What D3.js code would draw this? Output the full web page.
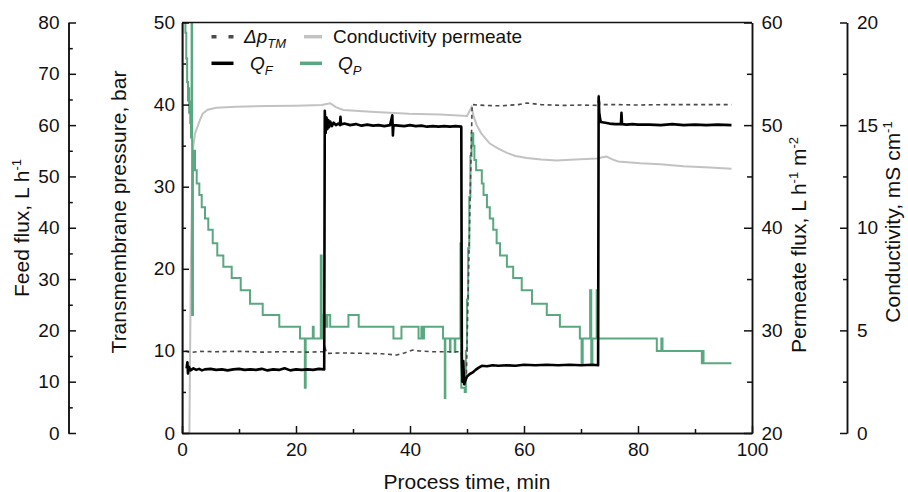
<!DOCTYPE html>
<html>
<head>
<meta charset="utf-8">
<script src="https://cdn.jsdelivr.net/npm/d3@7"></script>
<style>
  body { margin: 0; background: #fff; }
  text { font-family: "Liberation Sans", Arial, sans-serif; fill: #111; }
</style>
</head>
<body>
<script>
// Feed flux Q_F, L/h  [time min, value]
const feedFlux = [
  [0.8, 12.6], [0.95, 13.8], [1.05, 11.6], [1.2, 12.9], [1.5, 12.2], [2, 12.6], [2.5, 12.3], [3, 12.5],
  [3.5, 12.2], [4, 12.4], [5, 12.5], [6, 12.3], [7, 12.4], [8, 12.2], [9, 12.4], [10, 12.5], [11, 12.3],
  [12, 12.4], [13, 12.3], [14, 12.5], [15, 12.2], [16, 12.4], [17, 12.3], [18, 12.6], [19, 12.2],
  [20, 12.4], [21, 12.3], [22, 12.4], [23, 12.3], [24, 12.5], [24.95, 12.4],
  [25.05, 62.8], [25.2, 58.5], [25.35, 61.5], [25.5, 59.2], [25.65, 61.0], [25.8, 59.6], [26.0, 60.7],
  [26.3, 59.8], [26.6, 60.5], [27.0, 60.0], [27.4, 60.3], [27.7, 60.0], [27.8, 61.6], [27.9, 60.1],
  [28.5, 60.3], [29.5, 60.0], [30.5, 60.2], [31.5, 59.9], [32.5, 60.1], [33.5, 59.9], [34.5, 60.0],
  [35.5, 59.8], [36.5, 60.0], [36.9, 61.9], [37.0, 58.0], [37.1, 60.0], [38, 59.9], [39, 59.8],
  [40, 60.0], [41, 59.8], [42, 59.9], [43, 59.7], [44, 59.8], [45, 59.7], [46, 59.8], [47, 59.7],
  [48, 59.8], [49.0, 59.7], [49.1, 13.5], [49.2, 10.0], [49.35, 14.0], [49.5, 9.5], [49.7, 10.2],
  [50.0, 11.0], [50.5, 11.5], [51.0, 11.8], [51.5, 12.3], [52.0, 12.7], [52.6, 13.1], [53.5, 13.0],
  [54.5, 13.2], [55.5, 13.1], [57, 13.2], [58.5, 13.1], [60, 13.3], [62, 13.2], [64, 13.3], [66, 13.2],
  [68, 13.3], [70, 13.2], [72, 13.3], [73.0, 13.2], [73.1, 65.5], [73.2, 62.5], [73.35, 61.2],
  [73.5, 60.6], [74, 60.5], [75, 60.3], [76, 60.2], [77.0, 60.2], [77.1, 62.4], [77.2, 60.2], [78, 60.1],
  [79, 60.2], [80, 60.1], [82, 60.1], [84, 60.0], [86, 60.2], [88, 60.0], [90, 60.1], [92, 60.0],
  [94, 60.1], [96.4, 60.0]
];

// Permeate flux Q_P, L h-1 m-2 (stepped readings)
const permeateFlux = [
  [0, 20], [0.12, 65], [0.45, 62], [0.6, 59], [0.75, 56.5], [0.9, 54.2], [1.05, 52.4], [1.15, 53.6],
  [1.25, 51.2], [1.35, 52.3], [1.45, 50.2], [1.58, 48.8], [1.68, 65], [1.78, 31.5], [1.92, 47.5],
  [2.28, 45.6], [2.58, 44.3], [3.04, 43.2], [3.46, 42.0], [4.04, 40.9], [4.61, 39.8], [5.39, 38.5],
  [6.19, 37.3], [7.25, 36.2], [8.72, 35.1], [10.3, 33.9], [11.93, 32.6], [14.16, 31.5], [17.07, 30.35],
  [20.7, 29.2], [21.55, 24.4], [21.7, 29.2], [22.95, 30.35], [23.1, 29.2], [24.35, 37.3], [24.5, 29.2],
  [24.8, 31.5], [25.2, 30.35], [25.5, 31.5], [26.0, 30.35], [29.2, 31.5], [31.0, 30.35], [37.1, 29.2],
  [38.5, 30.35], [41.5, 29.2], [42.0, 30.35], [42.25, 29.2], [42.45, 30.35], [45.8, 29.2], [46.1, 23.4],
  [46.2, 29.2], [47.0, 27.9], [47.1, 29.2], [47.85, 27.9], [47.95, 29.2], [48.85, 38.5], [49.0, 24.4],
  [49.6, 24.0], [49.8, 28.0], [50.0, 33.0], [50.2, 38.0], [50.4, 43.0], [50.6, 47.0], [50.8, 49.2],
  [51.1, 48.0], [51.3, 46.6], [51.6, 45.6], [52.6, 44.3], [52.9, 43.2], [53.5, 42.0], [54.0, 40.9],
  [54.6, 39.8], [55.2, 38.5], [55.8, 37.3], [57.0, 36.2], [58.1, 35.1], [59.6, 33.9], [61.4, 32.6],
  [64.0, 31.5], [66.3, 30.35], [69.8, 29.2], [70.1, 26.8], [70.3, 29.2], [71.6, 33.9], [71.8, 26.8],
  [72.0, 29.2], [72.75, 33.9], [73.0, 29.2], [83.3, 28.0], [84.1, 29.2], [84.3, 28.0], [91.2, 26.8],
  [91.35, 28.0], [91.5, 26.8], [96.4, 26.8]
];

// Transmembrane pressure, bar
const tmpData = [
  [0.6, 10.0], [1.5, 9.8], [3, 9.95], [6, 9.9], [10, 9.95], [14, 9.85], [18, 9.9], [22, 9.85],
  [24.8, 9.9], [25.1, 10.4], [25.4, 9.7], [28, 9.75], [32, 9.7], [35, 9.65], [37.7, 9.5], [39, 9.75],
  [40.5, 10.1], [41.5, 10.0], [44, 9.9], [47, 9.9], [49.0, 9.9], [49.2, 6.8], [49.9, 7.2], [50.9, 40.0],
  [53, 39.9], [56, 39.85], [59, 40.0], [60.5, 40.2], [63, 40.0], [67, 39.9], [70, 39.95], [73.0, 39.9],
  [73.1, 41.2], [73.3, 40.0], [76, 40.0], [80, 39.95], [85, 40.0], [90, 40.0], [96.4, 40.0]
];

// Conductivity permeate, mS/cm
const condData = [
  [1.3, 0], [1.55, 8.0], [1.75, 11.5], [1.95, 13.9], [2.3, 14.6], [3.0, 15.15], [3.6, 15.55], [4.5, 15.75],
  [6.0, 15.85], [9.5, 15.9], [15, 15.93], [20, 15.95], [24.5, 15.98], [26.0, 16.06], [27.0, 15.88],
  [28.3, 15.74], [33.9, 15.64], [39.8, 15.56], [45.3, 15.52], [50.0, 15.45], [50.8, 15.88], [51.2, 15.4],
  [51.7, 15.0], [52.5, 14.6], [54.0, 14.1], [55.5, 13.85], [57, 13.65], [58.5, 13.5], [60.5, 13.4],
  [63, 13.33], [65.7, 13.28], [69, 13.32], [72.8, 13.37], [74.0, 13.45], [74.5, 13.47], [75.5, 13.33],
  [76.5, 13.23], [80.4, 13.14], [83.9, 13.09], [88, 13.0], [92.6, 12.93], [96.4, 12.88]
];

// tick values
const timeTicks = [0, 20, 40, 60, 80, 100], timeMinor = [10, 30, 50, 70, 90];
const tmpTicks = [0, 10, 20, 30, 40, 50], tmpMinor = [5, 15, 25, 35, 45];
const feedTicks = [0, 10, 20, 30, 40, 50, 60, 70, 80], feedMinor = [5, 15, 25, 35, 45, 55, 65, 75];
const permTicks = [20, 30, 40, 50, 60], permMinor = [25, 35, 45, 55];
const condTicks = [0, 5, 10, 15, 20], condMinor = [2.5, 7.5, 12.5, 17.5];

const width = 908, height = 492;
const plotLeft = 182, plotRight = 752, plotTop = 22.5, plotBottom = 433;
const font = '"Liberation Sans", Arial, sans-serif';
const green = "#5aa880";

const x = d3.scaleLinear().domain([0, 100]).range([plotLeft, plotRight]);
const yTmp = d3.scaleLinear().domain([0, 50]).range([plotBottom, plotTop]);
const yFeed = d3.scaleLinear().domain([0, 80]).range([plotBottom, plotTop]);
const yPerm = d3.scaleLinear().domain([20, 60]).range([plotBottom, plotTop]);
const yCond = d3.scaleLinear().domain([0, 20]).range([plotBottom, plotTop]);

const svg = d3.select("body").append("svg")
    .attr("width", width)
    .attr("height", height);

svg.append("clipPath").attr("id", "plot")
  .append("rect").attr("x", plotLeft).attr("y", plotTop)
  .attr("width", plotRight - plotLeft).attr("height", plotBottom - plotTop);

// Data lines
const plot = svg.append("g").attr("clip-path", "url(#plot)");

plot.append("path")
    .datum(condData)
    .attr("fill", "none").attr("stroke", "#c2c2c2").attr("stroke-width", 2)
    .attr("d", d3.line().x(d => x(d[0])).y(d => yCond(d[1])));

plot.append("path")
    .datum(permeateFlux)
    .attr("fill", "none").attr("stroke", green).attr("stroke-width", 2)
    .attr("d", d3.line().curve(d3.curveStepAfter).x(d => x(d[0])).y(d => yPerm(d[1])));

plot.append("path")
    .datum(tmpData)
    .attr("fill", "none").attr("stroke", "#4a4a4a").attr("stroke-width", 1.6)
    .attr("stroke-dasharray", "4,3.5")
    .attr("d", d3.line().x(d => x(d[0])).y(d => yTmp(d[1])));

plot.append("path")
    .datum(feedFlux)
    .attr("fill", "none").attr("stroke", "#000").attr("stroke-width", 2.6)
    .attr("stroke-linejoin", "round")
    .attr("d", d3.line().x(d => x(d[0])).y(d => yFeed(d[1])));

// Axes
function addAxis(axisFn, scale, tx, ty, major, minor, size, minorSize, pad) {
  const g = svg.append("g").attr("transform", `translate(${tx},${ty})`);
  g.append("g").call(axisFn(scale).tickValues(minor).tickSize(-minorSize).tickSizeOuter(0).tickFormat(""));
  g.append("g").call(axisFn(scale).tickValues(major).tickSize(-size).tickSizeOuter(0)
      .tickPadding(pad).tickFormat(d3.format("d")));
  g.selectAll("text").filter(function() { return this.textContent === ""; }).remove();
  g.selectAll("path, line").attr("stroke", "#111").attr("stroke-width", 1.5);
  g.selectAll("text").attr("font-size", 19).attr("font-family", font).attr("fill", "#111");
  return g;
}

addAxis(d3.axisBottom, x, 0, plotBottom, timeTicks, timeMinor, 7, 4, 10);
addAxis(d3.axisLeft, yTmp, plotLeft, 0, tmpTicks, tmpMinor, 7, 4, 7);
addAxis(d3.axisLeft, yFeed, 68.5, 0, feedTicks, feedMinor, 7.5, 4.3, 9);
addAxis(d3.axisRight, yPerm, plotRight, 0, permTicks, permMinor, 8, 5, 9.5);
addAxis(d3.axisRight, yCond, 847, 0, condTicks, condMinor, 7, 4, 10);

// top frame
svg.append("line")
    .attr("x1", plotLeft).attr("x2", plotRight).attr("y1", plotTop).attr("y2", plotTop)
    .attr("stroke", "#111").attr("stroke-width", 1.5);

// Axis titles; parts marked sup are raised, the next part drops back
function title(tx, ty, rotate, parts) {
  const t = svg.append("text")
      .attr("transform", `translate(${tx},${ty})` + (rotate ? " rotate(-90)" : ""))
      .attr("text-anchor", "middle")
      .attr("font-size", 21);
  let raised = false;
  parts.forEach(p => {
    const s = t.append("tspan").text(p.text);
    if (p.sup) {
      s.attr("font-size", 13).attr("dy", -8);
      raised = true;
    } else if (raised) {
      s.attr("dy", 8);
      raised = false;
    }
  });
}

title(467, 489, false, [{text: "Process time, min"}]);
title(29, 228, true, [{text: "Feed flux, L h"}, {text: "-1", sup: true}]);
title(126, 212, true, [{text: "Transmembrane pressure, bar"}]);
title(806, 245, true, [{text: "Permeate flux, L h"}, {text: "-1", sup: true}, {text: " m"}, {text: "-2", sup: true}]);
title(900, 222, true, [{text: "Conductivity, mS cm"}, {text: "-1", sup: true}]);

// Legend
const legend = svg.append("g");
const legendItems = [
  {x1: 211.5, x2: 233.5, y: 36.7, stroke: "#4a4a4a", dash: "5,12"},
  {x1: 304, x2: 322, y: 36.7, stroke: "#c2c2c2"},
  {x1: 211.5, x2: 233.5, y: 63.3, stroke: "#000"},
  {x1: 300, x2: 322, y: 63.3, stroke: green}
];
legendItems.forEach(d => {
  legend.append("line")
      .attr("x1", d.x1).attr("x2", d.x2).attr("y1", d.y).attr("y2", d.y)
      .attr("stroke", d.stroke).attr("stroke-width", 3.5)
      .attr("stroke-dasharray", d.dash || null);
});

function legendText(tx, ty, main, sub, italic) {
  const t = legend.append("text").attr("x", tx).attr("y", ty).attr("font-size", 19);
  t.append("tspan").attr("font-style", italic ? "italic" : null).text(main);
  if (sub) t.append("tspan").attr("font-style", "italic").attr("font-size", 13).attr("dy", 5).text(sub);
}
legendText(244, 43, "\u0394p", "TM", true);
legendText(333, 43, "Conductivity permeate", null, false);
legendText(250, 70, "Q", "F", true);
legendText(338, 70, "Q", "P", true);
</script>
</body>
</html>
